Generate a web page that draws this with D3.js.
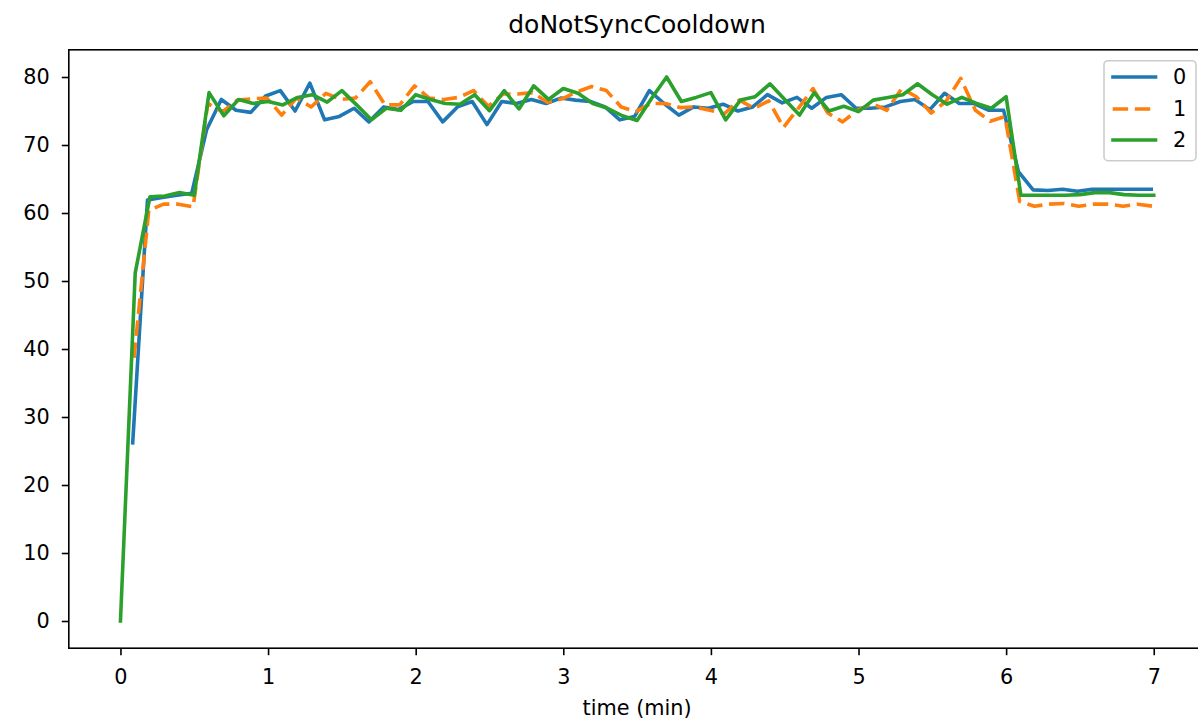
<!DOCTYPE html>
<html>
<head>
<meta charset="utf-8">
<script src="https://cdn.jsdelivr.net/npm/d3@7"></script>
<style>
  html, body { margin: 0; padding: 0; background: #fff; }
  svg { display: block; font-family: "DejaVu Sans", sans-serif; }
</style>
</head>
<body>
<svg id="chart" width="1198" height="719"></svg>
<script>
// ---------------- data ----------------
const title = "doNotSyncCooldown";
const xLabel = "time (min)";
const seriesNames = ["0", "1", "2"];
const seriesColors = ["#1f77b4", "#ff7f0e", "#2ca02c"];
const timeOffsets = [-0.017, -0.008, 0];
const times = [0.0, 0.1, 0.2, 0.3, 0.4, 0.5, 0.6, 0.7, 0.8, 0.9,
  1.0, 1.1, 1.2, 1.3, 1.4, 1.5, 1.6, 1.7, 1.8, 1.9,
  2.0, 2.1, 2.2, 2.3, 2.4, 2.5, 2.6, 2.7, 2.8, 2.9,
  3.0, 3.1, 3.2, 3.3, 3.4, 3.5, 3.6, 3.7, 3.8, 3.9,
  4.0, 4.1, 4.2, 4.3, 4.4, 4.5, 4.6, 4.7, 4.8, 4.9,
  5.0, 5.1, 5.2, 5.3, 5.4, 5.5, 5.6, 5.7, 5.8, 5.9,
  6.0, 6.1, 6.2, 6.3, 6.4, 6.5, 6.6, 6.7, 6.8, 6.9, 7.0];
const series0 = [null, 26.2, 61.9, 62.3, 62.6, 62.9, 72.2, 76.7, 75.1, 74.8,
  77.2, 78.0, 75.0, 79.1, 73.7, 74.2, 75.4, 73.4, 75.6, 75.2,
  76.4, 76.4, 73.4, 75.6, 76.4, 73.0, 76.4, 76.1, 76.7, 76.1,
  76.9, 76.6, 76.4, 75.6, 73.7, 74.2, 78.0, 76.1, 74.4, 75.6,
  75.4, 76.0, 75.0, 75.6, 77.4, 76.2, 77.0, 75.4, 77.0, 77.4,
  75.4, 75.4, 75.6, 76.4, 76.7, 75.2, 77.6, 76.1, 76.1, 75.1,
  75.1, 66.1, 63.4, 63.3, 63.5, 63.2, 63.5, 63.5, 63.5, 63.5, 63.5];
const series1 = [null, 38.7, 60.4, 61.3, 61.3, 60.9, 76.1, 74.9, 76.6, 76.8,
  76.9, 74.4, 76.9, 75.6, 77.6, 76.7, 76.9, 79.3, 75.9, 75.9,
  78.7, 76.9, 76.7, 77.0, 78.0, 75.7, 77.5, 77.5, 77.7, 76.3,
  76.8, 77.8, 78.6, 78.0, 75.6, 74.9, 76.1, 76.1, 75.5, 75.6,
  75.1, 74.6, 76.6, 75.4, 76.5, 72.6, 75.4, 78.3, 74.7, 73.4,
  75.1, 76.1, 75.1, 78.3, 77.1, 74.7, 76.4, 79.8, 75.1, 73.5,
  74.2, 61.7, 61.0, 61.3, 61.4, 61.0, 61.3, 61.3, 61.0, 61.3, 61.0];
const series2 = [0.0, 51.2, 62.4, 62.5, 63.0, 62.6, 77.7, 74.3, 76.7, 76.1,
  76.4, 75.9, 77.0, 77.4, 76.3, 78.0, 75.9, 73.7, 75.4, 75.1,
  77.4, 76.7, 76.1, 76.0, 77.4, 75.05, 78.0, 75.3, 78.7, 76.7,
  78.3, 77.6, 76.1, 75.4, 74.3, 73.6, 76.9, 80.0, 76.4, 77.0,
  77.7, 73.7, 76.6, 77.1, 79.0, 76.7, 74.4, 77.7, 75.0, 75.7,
  74.9, 76.6, 77.0, 77.4, 79.0, 77.4, 76.0, 77.0, 76.1, 75.4,
  77.1, 62.6, 62.6, 62.6, 62.6, 62.7, 63.0, 63.0, 62.7, 62.6, 62.6];
const xTicks = [0, 1, 2, 3, 4, 5, 6, 7];
const yTicks = [0, 10, 20, 30, 40, 50, 60, 70, 80];

// ---------------- layout ----------------
const W = 1198, H = 719;
const plot = { left: 68.8, right: 1205.4, top: 49.8, bottom: 648.2 };
const fontTick = 20.8;

const svg = d3.select("#chart");
const x = d3.scaleLinear().domain([-0.35, 7.35]).range([plot.left, plot.right]);
const y = d3.scaleLinear().domain([-4, 84]).range([plot.bottom, plot.top]);

svg.append("rect").attr("width", W).attr("height", H).attr("fill", "#fff");

// clip
svg.append("defs").append("clipPath").attr("id", "clip")
  .append("rect").attr("x", plot.left).attr("y", plot.top)
  .attr("width", plot.right - plot.left).attr("height", plot.bottom - plot.top);

// lines
const allSeries = [series0, series1, series2];
const line = d3.line()
  .defined(d => d.v !== null)
  .x(d => x(d.t))
  .y(d => y(d.v));

const gLines = svg.append("g").attr("clip-path", "url(#clip)");
allSeries.forEach((vals, i) => {
  const pts = vals.map((v, k) => ({ t: times[k] + timeOffsets[i], v: v }));
  const p = gLines.append("path")
    .datum(pts)
    .attr("d", line)
    .attr("fill", "none")
    .attr("stroke", seriesColors[i])
    .attr("stroke-width", 3.6)
    .attr("stroke-linejoin", "round");
  if (i === 1) {
    p.attr("stroke-dasharray", "15.4,6.7").attr("stroke-linecap", "butt");
  } else {
    p.attr("stroke-linecap", "square");
  }
});

// axes
const xAxis = d3.axisBottom(x).tickValues(xTicks).tickFormat(d3.format("d"))
  .tickSize(7).tickPadding(14);
const gx = svg.append("g").attr("transform", `translate(0,${plot.bottom})`).call(xAxis);
const yAxis = d3.axisLeft(y).tickValues(yTicks).tickFormat(d3.format("d"))
  .tickSize(7).tickPadding(12);
const gy = svg.append("g").attr("transform", `translate(${plot.left},0)`).call(yAxis);
[gx, gy].forEach(g => {
  g.select(".domain").remove();
  g.selectAll(".tick line").attr("stroke", "#000").attr("stroke-width", 1.6);
  g.selectAll(".tick text").attr("fill", "#000")
    .style("font-family", "DejaVu Sans").style("font-size", fontTick + "px");
});
gx.selectAll(".tick text").attr("dy", "0.71em");

// frame
svg.append("rect")
  .attr("x", plot.left).attr("y", plot.top)
  .attr("width", plot.right - plot.left).attr("height", plot.bottom - plot.top)
  .attr("fill", "none").attr("stroke", "#000").attr("stroke-width", 1.6);

// title and label
svg.append("text").attr("x", (plot.left + plot.right) / 2).attr("y", 33)
  .attr("text-anchor", "middle").style("font-size", "25px").text(title);
svg.append("text").attr("x", (plot.left + plot.right) / 2).attr("y", 715)
  .attr("text-anchor", "middle").style("font-size", fontTick + "px").text(xLabel);

// legend
const lg = svg.append("g");
lg.append("rect").attr("x", 1104).attr("y", 60.7).attr("width", 92).attr("height", 100)
  .attr("rx", 4).attr("fill", "#fff").attr("fill-opacity", 0.8)
  .attr("stroke", "#cccccc").attr("stroke-width", 1.6);
const legendY = [77, 109, 140];
seriesNames.forEach((name, i) => {
  const l = lg.append("line").attr("x1", 1113).attr("x2", 1155.5)
    .attr("y1", legendY[i]).attr("y2", legendY[i])
    .attr("stroke", seriesColors[i]).attr("stroke-width", 3.6);
  if (i === 1) l.attr("stroke-dasharray", "15.4,6.7").attr("x1", 1112.7).attr("x2", 1156);
  else l.attr("stroke-linecap", "square");
  lg.append("text").attr("x", 1173).attr("y", legendY[i]).attr("dy", "0.35em")
    .style("font-size", fontTick + "px").text(name);
});
</script>
</body>
</html>
